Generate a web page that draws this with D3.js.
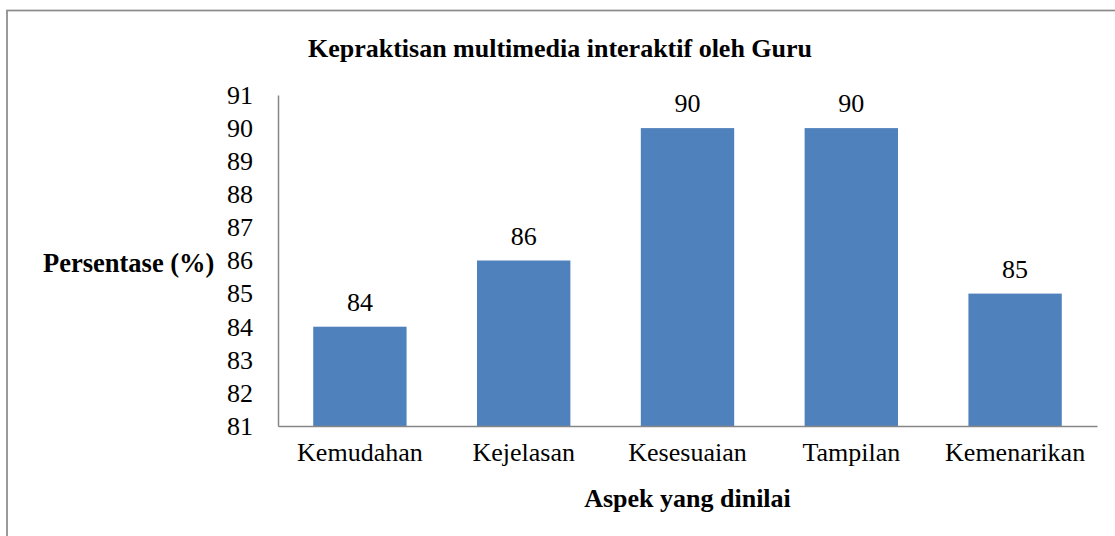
<!DOCTYPE html>
<html>
<head>
<meta charset="utf-8">
<script src="https://cdn.jsdelivr.net/npm/d3@7"></script>
<style>
  body { margin: 0; background: #fff; }
  svg text { font-family: 'Liberation Serif', 'Times New Roman', serif !important; fill: #000; }
</style>
</head>
<body>
<svg id="chart" width="1115" height="536"></svg>
<script>
var categories = ["Kemudahan", "Kejelasan", "Kesesuaian", "Tampilan", "Kemenarikan"];
var values = [84, 86, 90, 90, 85];
var yTicks = [81, 82, 83, 84, 85, 86, 87, 88, 89, 90, 91];
var chartTitle = "Kepraktisan multimedia interaktif oleh Guru";
var yTitle = "Persentase (%)";
var xTitle = "Aspek yang dinilai";

var serif = "'Liberation Serif', 'Times New Roman', serif";

var svg = d3.select("#chart"),
  margin = {top: 95, right: 18, bottom: 110, left: 278},
  width = +svg.attr("width") - margin.left - margin.right,
  height = +svg.attr("height") - margin.top - margin.bottom;

// outer chart border (runs off the right and bottom of the picture)
svg.append("rect")
  .attr("x", 7).attr("y", 10.5)
  .attr("width", 1120).attr("height", 540)
  .attr("fill", "none")
  .attr("stroke", "#8c8c8c")
  .attr("stroke-width", 1.75);

var g = svg.append("g").attr("transform", "translate(" + margin.left + "," + margin.top + ")");

var x = d3.scaleBand()
  .domain(categories)
  .range([0, width])
  .paddingInner(0.43)
  .paddingOuter(0.215);

var y = d3.scaleLinear()
  .domain([81, 91])
  .range([height, 0]);

// bars
g.selectAll("rect.bar")
  .data(categories)
  .enter().append("rect")
  .attr("class", "bar")
  .attr("x", function(d) { return x(d); })
  .attr("y", function(d, i) { return y(values[i]); })
  .attr("width", x.bandwidth())
  .attr("height", function(d, i) { return height - y(values[i]); })
  .attr("fill", "#4f81bd");

// value labels
g.selectAll("text.val")
  .data(categories)
  .enter().append("text")
  .attr("class", "val")
  .attr("x", function(d) { return x(d) + x.bandwidth() / 2; })
  .attr("y", function(d, i) { return y(values[i]) - 16; })
  .attr("text-anchor", "middle")
  .style("font-family", serif)
  .style("font-size", "26px")
  .text(function(d, i) { return values[i]; });

// y axis
var yAxis = g.append("g")
  .attr("font-family", null)
  .call(d3.axisLeft(y).tickValues(yTicks).tickSize(0).tickPadding(25).tickFormat(d3.format("d")));
yAxis.attr("font-family", serif);
yAxis.select(".domain").attr("stroke", "#868686").attr("stroke-width", 1.5);
yAxis.selectAll("text")
  .style("font-family", serif)
  .style("font-size", "26px")
  .attr("dy", "0.32em");

// x axis
var xAxis = g.append("g")
  .attr("transform", "translate(0," + height + ")")
  .call(d3.axisBottom(x).tickSize(0).tickPadding(17));
xAxis.attr("font-family", serif);
xAxis.select(".domain").attr("stroke", "#868686").attr("stroke-width", 1.5);
xAxis.selectAll("text")
  .style("font-family", serif)
  .style("font-size", "26px");

// titles
svg.append("text")
  .attr("x", 560).attr("y", 57)
  .attr("text-anchor", "middle")
  .style("font-family", serif)
  .style("font-size", "26px")
  .attr("font-weight", "bold")
  .text(chartTitle);

svg.append("text")
  .attr("x", 43).attr("y", 272)
  .style("font-family", serif)
  .style("font-size", "26.5px")
  .attr("font-weight", "bold")
  .text(yTitle);

svg.append("text")
  .attr("x", margin.left + width / 2).attr("y", 507)
  .attr("text-anchor", "middle")
  .style("font-family", serif)
  .style("font-size", "26px")
  .attr("font-weight", "bold")
  .text(xTitle);
</script>
</body>
</html>
